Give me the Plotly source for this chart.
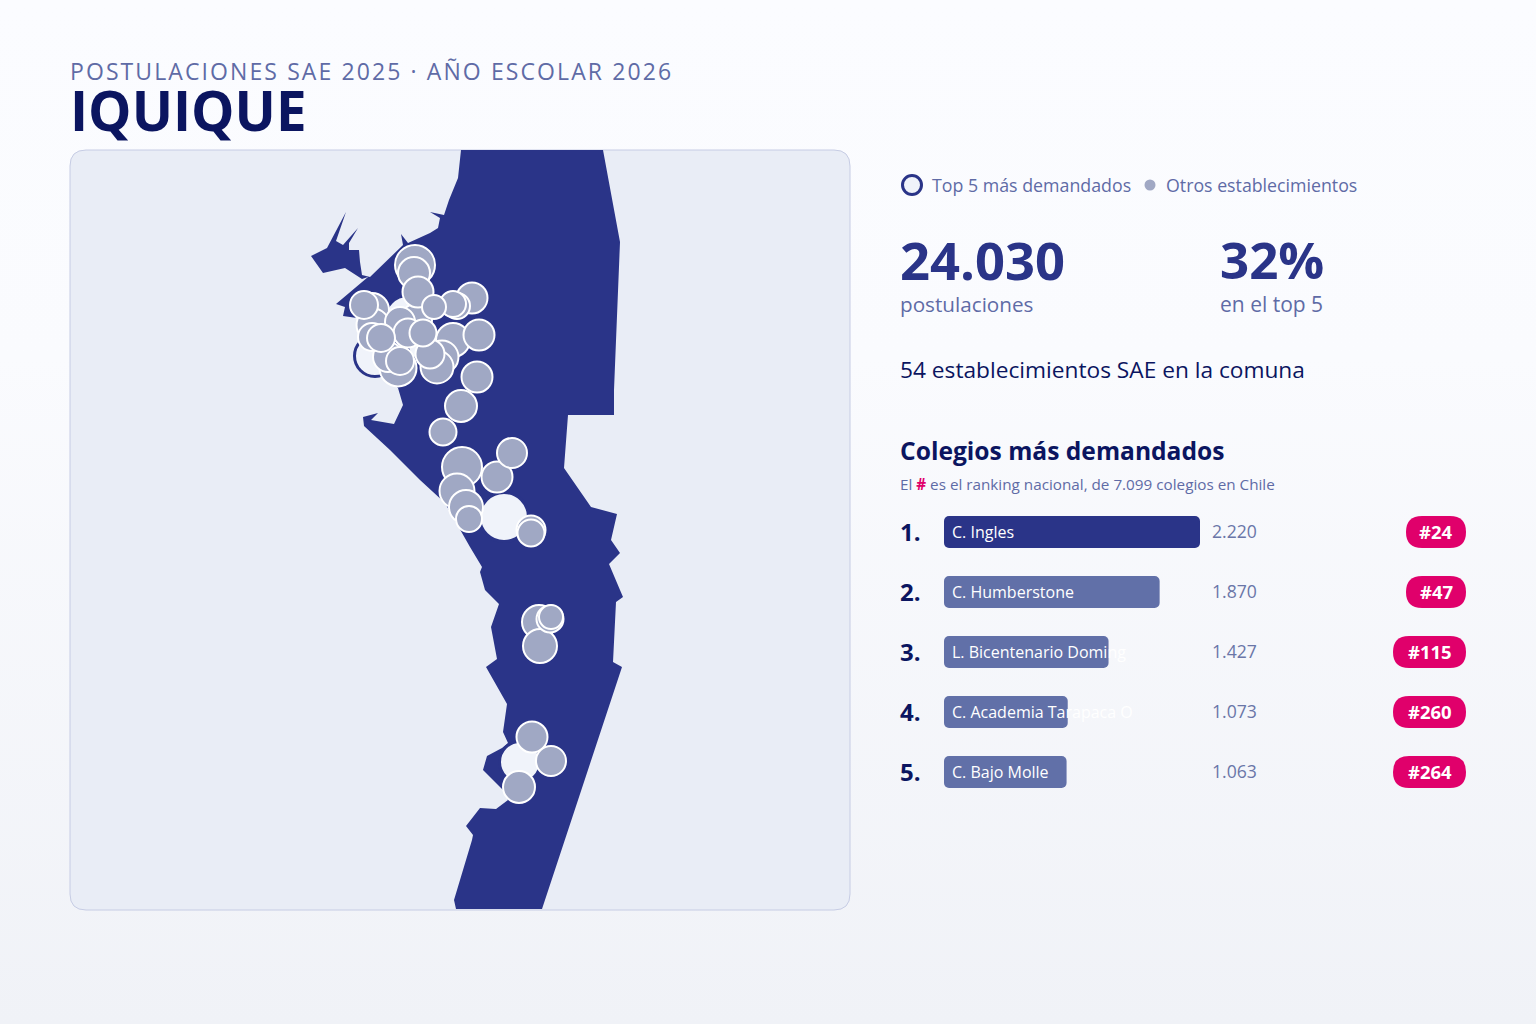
import math

import plotly.graph_objects as go

# Contorno de la comuna (unidades del eje del mapa)
costa_x = [461, 603, 620, 614, 614, 568, 564, 591, 617, 611, 620, 609, 620, 623, 616, 613, 622, 565, 542,
           456, 454, 472, 473, 466, 480, 496, 508, 503, 483, 487, 502, 508, 503, 507, 486, 497, 491, 499,
           485, 480, 482, 470, 445, 420, 390, 364, 363, 378, 371, 394, 403, 398, 372, 362, 357, 343, 345,
           336, 368, 362, 345, 323, 311, 327, 346, 336, 343, 358, 349, 349, 359, 360, 362, 370, 403, 401,
           408, 430, 438, 440, 430, 444, 449, 458]
costa_y = [150, 150, 242, 390, 415, 415, 468, 507, 514, 540, 553, 564, 590, 597, 602, 662, 667, 840, 909,
           909, 900, 840, 835, 826, 808, 809, 800, 790, 770, 756, 748, 743, 732, 704, 667, 659, 627, 604,
           590, 572, 567, 547, 503, 480, 450, 426, 417, 413, 420, 424, 405, 388, 365, 345, 318, 316, 307,
           304, 277, 279, 268, 273, 256, 248, 212, 241, 245, 228, 243, 250, 250, 262, 275, 277, 245, 234,
           243, 233, 228, 218, 212, 215, 200, 178]

# Otros establecimientos
otros_x = [415, 462, 398, 457, 372, 453, 466, 539, 540, 373, 442, 437, 414, 461, 519, 416, 418, 472, 479,
           477, 497, 532, 400, 388, 512, 551, 408, 430, 531, 364, 372, 381, 400, 423, 443, 531, 550, 457,
           453, 469, 434, 551]
otros_y = [265, 467, 368, 491, 310, 340, 507, 622, 646, 325, 357, 367, 273, 406, 787, 320, 292, 298, 335,
           377, 477, 737, 322, 357, 453, 761, 333, 354, 530, 305, 337, 338, 361, 333, 432, 533, 619, 306,
           304, 519, 307, 617]
otros_valor = [1680, 1680, 1437, 1286, 1214, 1214, 1214, 1214, 1214, 1143, 1143, 1143, 1075, 1075, 1075, 1075,
               1009, 1009, 1009, 1009, 1009, 1009, 945, 945, 945, 945, 883, 883, 883, 823, 823, 823, 823,
               765, 765, 765, 765, 710, 710, 710, 605, 605]

# Top 5 en el mapa
top_x = [504, 408, 520, 375, 425]
top_y = [517, 319, 762, 356, 345]
top_valor = [2220, 2033, 1516, 1516, 1063]

# Ranking
colegios = ["C. Ingles", "C. Humberstone", "L. Bicentenario Doming", "C. Academia Tarapaca O", "C. Bajo Molle"]
postulaciones = [2220, 1870, 1427, 1073, 1063]
postulaciones_txt = ["2.220", "1.870", "1.427", "1.073", "1.063"]
ranking = ["#24", "#47", "#115", "#260", "#264"]

FUENTE = "Open Sans"
NAVY = "#2a3488"
OSCURO = "#0b1560"
MEDIO = "#5f6ba6"
BARRA = "#6170a8"
GRIS = "#a0a8c4"
ROSA = "#e0006b"
FONDO_MAPA = "#e9edf6"
ANCHO, ALTO = 1536, 1024


def radio_a_tamano(valor):
    # Radio proporcional a la raíz de las postulaciones
    return 2 * 0.488 * math.sqrt(valor)


def rect_redondeado(x0, y0, x1, y1, r):
    return (f"M{x0 + r},{y0} L{x1 - r},{y0} Q{x1},{y0} {x1},{y0 + r} L{x1},{y1 - r} Q{x1},{y1} {x1 - r},{y1} "
            f"L{x0 + r},{y1} Q{x0},{y1} {x0},{y1 - r} L{x0},{y0 + r} Q{x0},{y0} {x0 + r},{y0} Z")


def texto(x, y, txt, size, color, weight=400, xanchor="left", xref="x", yref="y", xshift=0):
    return dict(x=x, y=y, xref=xref, yref=yref, text=txt, showarrow=False, xanchor=xanchor, yanchor="middle",
                xshift=xshift, borderpad=0, font=dict(family=FUENTE, size=size, color=color, weight=weight))


fig = go.Figure()

fig.add_trace(go.Scatter(x=costa_x, y=costa_y, mode="lines", fill="toself", fillcolor=NAVY,
                         line=dict(width=0), hoverinfo="skip", xaxis="x", yaxis="y"))
fig.add_trace(go.Scatter(x=top_x, y=top_y, mode="markers", hoverinfo="skip",
                         marker=dict(size=[radio_a_tamano(v) + 3 for v in top_valor], color="#f0f3fa", opacity=1,
                                     line=dict(color=NAVY, width=3))))
fig.add_trace(go.Scatter(x=otros_x, y=otros_y, mode="markers", hoverinfo="skip",
                         marker=dict(size=[radio_a_tamano(v) for v in otros_valor], color=GRIS, opacity=1,
                                     line=dict(color="white", width=2))))
# base explícita: así plotly redondea los dos extremos de la barra
fig.add_trace(go.Bar(x=postulaciones, base=0, y=colegios, orientation="h", width=32 / 60,
                     xaxis="x2", yaxis="y2", hoverinfo="skip",
                     marker=dict(color=[NAVY] + [BARRA] * 4, cornerradius=5, line=dict(width=0))))

anotaciones = [
    # x desplazada: el CSS de letter-spacing se aplica después de medir el texto
    texto(112, 71, "POSTULACIONES SAE 2025 · AÑO ESCOLAR 2026", 23, MEDIO),
    texto(69, 110, "IQUIQUE", 54.7, OSCURO, 700),
    texto(931, 185, "Top 5 más demandados", 17.8, MEDIO),
    texto(1165, 185, "Otros establecimientos", 17.75, MEDIO),
    texto(899, 259, "24.030", 52.5, NAVY, 700),
    texto(899, 304, "postulaciones", 20.7, MEDIO),
    texto(1219, 259, "32%", 51, NAVY, 700),
    texto(1219, 304, "en el top 5", 21, MEDIO),
    texto(899, 369, "54 establecimientos SAE en la comuna", 22.7, OSCURO),
    texto(899, 450, "Colegios más demandados", 24.6, OSCURO, 700),
    texto(899, 484, f'El <b><span style="color:{ROSA}">#</span></b> es el ranking nacional, de 7.099 colegios en Chile',
          15.25, MEDIO),
]

formas = [
    dict(type="path", path=rect_redondeado(70, 150, 850, 910, 16), fillcolor=FONDO_MAPA,
         line=dict(color="#c6cce4", width=1), layer="below", xref="x", yref="y"),
    dict(type="circle", x0=902.5, x1=921.5, y0=175.5, y1=194.5, fillcolor="#f0f3fa",
         line=dict(color=NAVY, width=3), xref="x", yref="y"),
    dict(type="circle", x0=1144.5, x1=1155.5, y0=179.5, y1=190.5, fillcolor=GRIS,
         line=dict(width=0), xref="x", yref="y"),
]

for i, nombre in enumerate(colegios):
    fila = 532 + 60 * i
    anotaciones.append(texto(899, fila - 1, f"{i + 1}.", 24, OSCURO, 700))
    anotaciones.append(texto(0, nombre, nombre, 16, "white", xref="x2", yref="y2", xshift=7))
    anotaciones.append(texto(1211, fila - 1, postulaciones_txt[i], 17.6, "#6a76a8"))
    ancho_pill = 60 if len(ranking[i]) == 3 else 73
    formas.append(dict(type="path", path=rect_redondeado(1466 - ancho_pill, fila - 16, 1466, fila + 16, 16),
                       fillcolor=ROSA, line=dict(width=0), xref="x", yref="y"))
    anotaciones.append(texto(1466 - ancho_pill / 2, fila - 1, ranking[i], 18.5, "white", 700, xanchor="center"))

fig.update_layout(
    width=ANCHO,
    height=ALTO,
    margin=dict(l=0, r=0, t=0, b=0),
    autosize=False,
    showlegend=False,
    paper_bgcolor="rgba(0,0,0,0)",
    plot_bgcolor="rgba(0,0,0,0)",
    xaxis=dict(range=[0, ANCHO], domain=[0, 1], visible=False, fixedrange=True),
    yaxis=dict(range=[ALTO, 0], domain=[0, 1], visible=False, fixedrange=True),
    xaxis2=dict(range=[0, 2220], domain=[944 / ANCHO, 1200 / ANCHO], anchor="y2", visible=False, fixedrange=True),
    yaxis2=dict(type="category", categoryorder="array", categoryarray=colegios, range=[4.5, -0.5],
                domain=[1 - 802 / ALTO, 1 - 502 / ALTO], anchor="x2", visible=False, fixedrange=True),
    annotations=anotaciones,
    shapes=formas,
)

# Fondo en degradado, sin margen de página, y espaciado del antetítulo
post_js = """
document.documentElement.style.margin = '0';
document.body.style.margin = '0';
document.body.style.overflow = 'hidden';
document.body.style.height = '1024px';
document.body.style.background = 'linear-gradient(180deg, #fbfcff 0%, #fafbfe 35%, #f0f2f7 100%)';
var st = document.createElement('style');
st.textContent = '.annotation-text[data-unformatted^="POSTULACIONES"]{letter-spacing:2.1px}';
document.head.appendChild(st);
"""

fig.write_html("out.html", post_script=post_js, config=dict(displayModeBar=False))
